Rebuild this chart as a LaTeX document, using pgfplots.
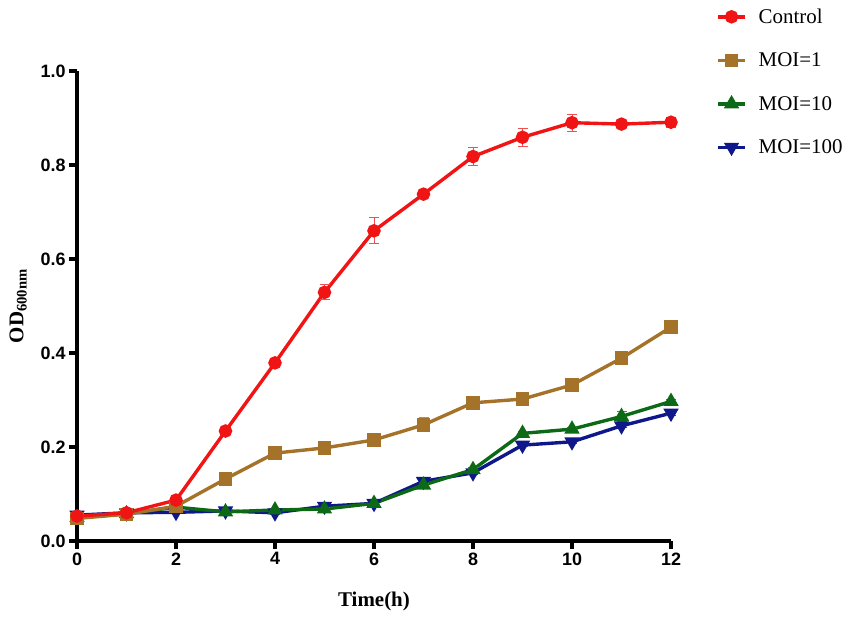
\documentclass[border=0pt]{standalone}
\usepackage{fontspec}
\setmainfont{Liberation Serif}
\setsansfont{Liberation Sans}
\usepackage{pgfplots}
\pgfplotsset{compat=1.18}
\usepackage{pgfplotstable}
\definecolor{cCtrl}{RGB}{240,20,20}
\definecolor{cM1}{RGB}{165,114,42}
\definecolor{cM10}{RGB}{12,106,22}
\definecolor{cM100}{RGB}{14,24,138}
\pgfplotstableread{
x y e
0 0.053 0.003
1 0.060 0.003
2 0.087 0.004
3 0.234 0.004
4 0.379 0.004
5 0.529 0.016
6 0.660 0.028
7 0.738 0.004
8 0.818 0.020
9 0.859 0.019
10 0.890 0.018
11 0.887 0.004
12 0.891 0.011
}\ctrl
\pgfplotstableread{
x y e
0 0.048 0.003
1 0.057 0.003
2 0.074 0.003
3 0.132 0.004
4 0.187 0.004
5 0.198 0.005
6 0.215 0.004
7 0.247 0.015
8 0.294 0.014
9 0.302 0.008
10 0.332 0.012
11 0.389 0.006
12 0.455 0.012
}\moia
\pgfplotstableread{
x y e
0 0.050 0.003
1 0.058 0.003
2 0.072 0.003
3 0.062 0.003
4 0.066 0.003
5 0.068 0.003
6 0.080 0.004
7 0.119 0.004
8 0.152 0.004
9 0.229 0.004
10 0.238 0.004
11 0.265 0.010
12 0.297 0.004
}\moib
\pgfplotstableread{
x y e
0 0.055 0.003
1 0.060 0.003
2 0.061 0.003
3 0.064 0.003
4 0.060 0.003
5 0.074 0.003
6 0.080 0.003
7 0.127 0.004
8 0.145 0.004
9 0.204 0.004
10 0.211 0.004
11 0.245 0.004
12 0.272 0.004
}\moic
\begin{document}
\begin{tikzpicture}
\useasboundingbox (-77bp,-76bp) rectangle (773bp,541bp);
\begin{axis}[
  scale only axis,
  width=594bp, height=470bp,
  xmin=0, xmax=12, ymin=0, ymax=1.0,
  axis lines=left,
  axis line style={-, line width=3.2bp, black},
  xtick={0,2,4,6,8,10,12},
  ytick={0,0.2,0.4,0.6,0.8,1.0},
  yticklabel style={/pgf/number format/.cd, fixed, fixed zerofill, precision=1},
  /pgf/number format/assume math mode=true,
  ticklabel style={font=\sffamily\bfseries\fontsize{18}{20}\selectfont},
  tick style={black, line width=3.2bp},
  tick align=outside,
  major tick length=8bp,
  xlabel={Time(h)},
  ylabel={OD\textsubscript{600nm}},
  label style={font=\bfseries\fontsize{21}{24}\selectfont},
  xlabel style={at={(axis description cs:0.5,-0.128)}, anchor=center},
  ylabel style={at={(axis description cs:-0.099,0.5)}, anchor=center},
  clip=false,
  reverse legend,
  legend style={at={(axis description cs:1.076,1.137)}, anchor=north west,
    draw=none, fill=none, font=\fontsize{21}{23}\selectfont, row sep=24bp,
    inner sep=0pt, /tikz/every odd column/.append style={column sep=10bp}},
  legend cell align=left,
  legend image code/.code={\draw[mark repeat=2,mark phase=2,#1] plot coordinates {(0bp,0bp) (13.5bp,0bp) (27bp,0bp)};},
  every axis plot/.append style={line width=3.4bp},
  error bars/error bar style={line width=1bp},
  error bars/error mark options={rotate=90, mark size=5bp, line width=1bp},
]
\addplot[color=cM100, mark=triangle*, mark options={rotate=180}, mark size=5.5bp,
  error bars/.cd, y dir=both, y explicit, error bar style={color=cM100!80!white}]
  table[x=x,y=y,y error=e]{\moic};
\addlegendentry{MOI=100}
\addplot[color=cM10, mark=triangle*, mark size=5.5bp,
  error bars/.cd, y dir=both, y explicit, error bar style={color=cM10!80!white}]
  table[x=x,y=y,y error=e]{\moib};
\addlegendentry{MOI=10}
\addplot[color=cM1, mark=square*, mark size=5bp,
  error bars/.cd, y dir=both, y explicit, error bar style={color=cM1!80!white}]
  table[x=x,y=y,y error=e]{\moia};
\addlegendentry{MOI=1}
\addplot[color=cCtrl, mark=*, mark size=5bp,
  error bars/.cd, y dir=both, y explicit, error bar style={color=cCtrl!75!white}]
  table[x=x,y=y,y error=e]{\ctrl};
\addlegendentry{Control}
\end{axis}
\end{tikzpicture}
\end{document}
